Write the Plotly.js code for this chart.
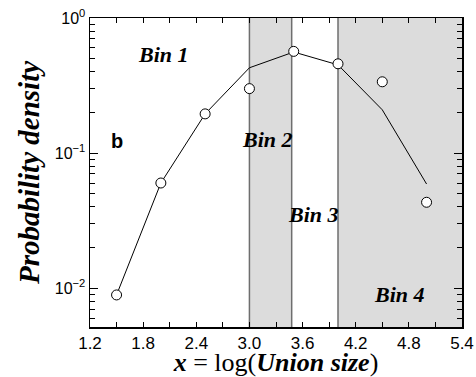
<!DOCTYPE html>
<html><head><meta charset="utf-8">
<script src="https://cdn.plot.ly/plotly-3.0.1.min.js"></script>
<style>body{margin:0;background:#fff}#c{width:476px;height:377px}</style>
</head><body><div id="c"></div>
<script>
var xVals = [1.5, 2.0, 2.5, 3.0, 3.5, 4.0, 4.5, 5.0];
var markerVals = [0.0089, 0.060, 0.195, 0.30, 0.566, 0.458, 0.337, 0.0432];
var lineVals = [0.0089, 0.060, 0.195, 0.428, 0.56, 0.45, 0.209, 0.059];
var shadedBins = [[3.0, 3.477], [4.0, 5.4]];
var binEdges = [3.0, 3.477, 4.0];
var binLabels = ["Bin 1", "Bin 2", "Bin 3", "Bin 4"];
var binLabelX = [2.035, 3.209, 3.72, 4.69];
var binLabelY = [0.54, 0.125, 0.0349, 0.0090];
var xTickVals = [1.2, 1.8, 2.4, 3.0, 3.6, 4.2, 4.8, 5.4];
var xTickText = ["1.2", "1.8", "2.4", "3.0", "3.6", "4.2", "4.8", "5.4"];
var xMinorVals = [1.5, 2.1, 2.7, 3.3, 3.9, 4.5, 5.1];
var yTickVals = [0.01, 0.1, 1];
var yTickText = ["10<sup>−2</sup>", "10<sup>−1</sup>", "10<sup>0</sup>"];
var yMinorVals = [];
[0.001, 0.01, 0.1].forEach(function(d){ for (var k = 2; k <= 9; k++) yMinorVals.push(d * k); });

var shapes = [];
shadedBins.forEach(function(b){
  shapes.push({type:'rect', xref:'x', yref:'paper', x0:b[0], x1:b[1], y0:0, y1:1,
    fillcolor:'#dcdcdc', line:{width:0}, layer:'below'});
});
binEdges.forEach(function(e){
  shapes.push({type:'line', xref:'x', yref:'paper', x0:e, x1:e, y0:0, y1:1,
    line:{color:'#6e6e6e', width:1.5}, layer:'below'});
});

var annotations = binLabels.map(function(t, i){
  return {x: binLabelX[i], y: Math.log10(binLabelY[i]), xref:'x', yref:'y', text:'<b><i>'+t+'</i></b>',
    showarrow:false, font:{family:'Liberation Serif, Times New Roman, serif', size:22, color:'#000'}};
});
annotations.push({x:1.505, y:Math.log10(0.122), xref:'x', yref:'y', text:'<b>b</b>', showarrow:false,
  font:{family:'Liberation Sans, Arial, sans-serif', size:20, color:'#000'}});

var traces = [
  {x:xVals, y:lineVals, mode:'lines', line:{color:'#000', width:1}, hoverinfo:'skip', showlegend:false},
  {x:xVals, y:markerVals, mode:'markers', marker:{symbol:'circle', size:10, color:'#fff', line:{color:'#000', width:1}}, showlegend:false}
];

var layout = {
  width:476, height:377,
  margin:{l:90, r:14, t:18, b:50},
  paper_bgcolor:'#fff', plot_bgcolor:'#fff',
  showlegend:false,
  font:{family:'Liberation Sans, Arial, sans-serif', size:16, color:'#000'},
  xaxis:{range:[1.2, 5.4], tickmode:'array', tickvals:xTickVals, ticktext:xTickText,
    ticks:'inside', ticklen:5, tickcolor:'#000', tickwidth:1,
    minor:{tickmode:'array', tickvals:xMinorVals, ticks:'inside', ticklen:5, tickcolor:'#000'},
    showline:true, linecolor:'#000', linewidth:1.5, mirror:'allticks', showgrid:false, zeroline:false,
    tickfont:{size:17},
    title:{text:'<b><i>x</i></b> = log(<b><i>Union size</i></b>)', standoff:3,
      font:{family:'Liberation Serif, Times New Roman, serif', size:26}}},
  yaxis:{type:'log', range:[-2.288, 0.0], tickmode:'array', tickvals:yTickVals, ticktext:yTickText,
    ticks:'inside', ticklen:8, tickcolor:'#000', tickwidth:1,
    minor:{tickmode:'array', tickvals:yMinorVals, ticks:'inside', ticklen:5, tickcolor:'#000'},
    showline:true, linecolor:'#000', linewidth:1.5, mirror:'allticks', showgrid:false, zeroline:false,
    tickfont:{size:16},
    title:{text:'<b><i>Probability density</i></b>', standoff:6,
      font:{family:'Liberation Serif, Times New Roman, serif', size:29}}},
  shapes:shapes,
  annotations:annotations
};
Plotly.newPlot('c', traces, layout, {staticPlot:true, displayModeBar:false});
</script></body></html>
